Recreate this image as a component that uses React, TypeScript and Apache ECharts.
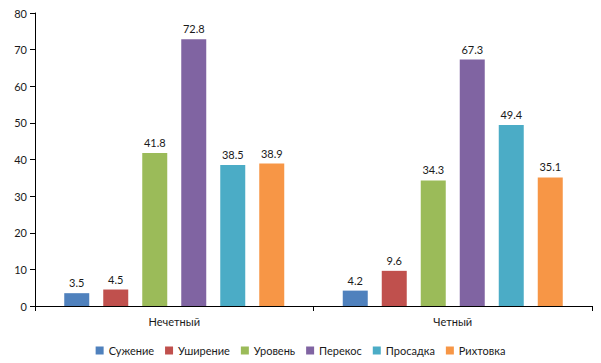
import React, { useEffect, useRef } from "react";
import * as echarts from "echarts";

const categories = ["Нечетный", "Четный"];
const seriesNames = ["Сужение", "Уширение", "Уровень", "Перекос", "Просадка", "Рихтовка"];
const suzhenie = [3.5, 4.2];
const ushirenie = [4.5, 9.6];
const uroven = [41.8, 34.3];
const perekos = [72.8, 67.3];
const prosadka = [38.5, 49.4];
const rikhtovka = [38.9, 35.1];
const colors = ["#4F81BD", "#C0504D", "#9BBB59", "#8064A2", "#4BACC6", "#F79646"];

export default function App() {
  const ref = useRef<HTMLDivElement>(null);
  useEffect(() => {
    const chart = echarts.init(ref.current!, null, { renderer: "svg" });
    const values = [suzhenie, ushirenie, uroven, perekos, prosadka, rikhtovka];
    chart.setOption({
      animation: false,
      textStyle: { fontFamily: "Lato, sans-serif" },
      grid: { left: 35, right: 9, top: 13, bottom: 57 },
      legend: {
        bottom: 2,
        left: "center",
        itemWidth: 8,
        itemHeight: 8,
        itemGap: 11,
        icon: "rect",
        textStyle: { fontSize: 11, color: "#1a1a1a", fontFamily: "Lato, sans-serif" },
        data: seriesNames,
      },
      xAxis: {
        type: "category",
        data: categories,
        axisLine: { lineStyle: { color: "#000" } },
        axisTick: { show: true, length: 5, lineStyle: { color: "#000" } },
        axisLabel: { fontSize: 11, color: "#1a1a1a", margin: 10 },
      },
      yAxis: {
        type: "value",
        min: 0,
        max: 80,
        interval: 10,
        splitLine: { show: false },
        axisLine: { show: true, lineStyle: { color: "#000" } },
        axisTick: { show: true, length: 5, lineStyle: { color: "#000" } },
        axisLabel: { fontSize: 11, color: "#1a1a1a", margin: 8 },
      },
      series: seriesNames.map((name, i) => ({
        name,
        type: "bar",
        data: values[i],
        barWidth: 25,
        barGap: "56%",
        itemStyle: { color: colors[i] },
        label: {
          show: true,
          position: "top",
          fontSize: 11,
          color: "#1a1a1a",
          distance: 5,
        },
      })),
    });
    return () => chart.dispose();
  }, []);
  return (
    <div
      ref={ref}
      style={{ position: "absolute", left: 0, top: 0, width: 601, height: 363 }}
    />
  );
}
